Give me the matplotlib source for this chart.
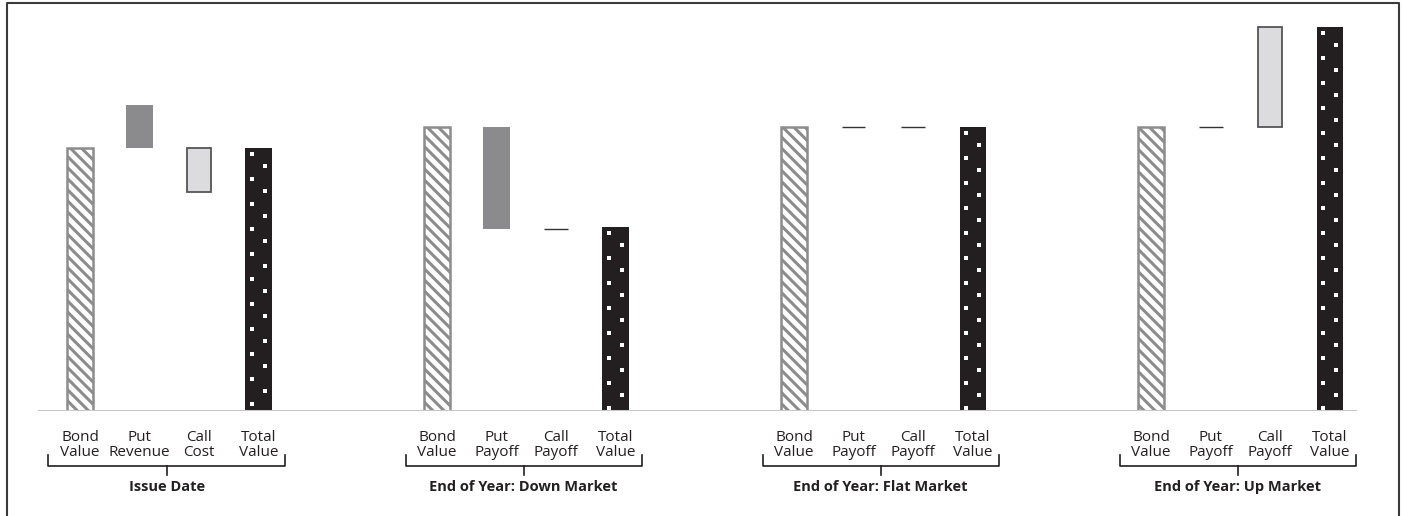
import numpy as np
import matplotlib
matplotlib.use("Agg")
import matplotlib.pyplot as plt
from matplotlib.lines import Line2D
import matplotlib.transforms as mtransforms

plt.rcParams['font.family'] = ['Open Sans', 'DejaVu Sans']
plt.rcParams['hatch.linewidth'] = 2.2

groups = ["Issue Date", "End of Year: Down Market", "End of Year: Flat Market", "End of Year: Up Market"]
cat_labels = [
    ["Bond\nValue", "Put\nRevenue", "Call\nCost", "Total\nValue"],
    ["Bond\nValue", "Put\nPayoff", "Call\nPayoff", "Total\nValue"],
    ["Bond\nValue", "Put\nPayoff", "Call\nPayoff", "Total\nValue"],
    ["Bond\nValue", "Put\nPayoff", "Call\nPayoff", "Total\nValue"],
]
bond = [92.6, 100, 100, 100]
put = [15.1, -35.8, 0, 0]
call = [-15.4, 0, 0, 35.2]
call_from = [92.6, 64.2, 100, 100]
total = [92.6, 64.8, 100, 135.2]

W, H = 1403, 516
fig = plt.figure(figsize=(W / 100, H / 100), dpi=100)
ax = fig.add_axes([38 / W, (H - 411) / H, (1357 - 38) / W, (411 - 15) / H])

bw = 0.44
gstep = 6
x0 = np.arange(len(groups)) * gstep

# bond value
ax.bar(x0, bond, bw, color="white", edgecolor="#8c8c8c", hatch="\\\\\\", lw=1.8, zorder=2)

# put
for i in range(len(groups)):
    if put[i] == 0:
        ax.hlines(bond[i], x0[i] + 1 - 0.2, x0[i] + 1 + 0.2, color="#333333", lw=1)
    else:
        ax.bar(x0[i] + 1, put[i], bw, bottom=bond[i], color="#8b8b8e", zorder=2)

# call
for i in range(len(groups)):
    if call[i] == 0:
        ax.hlines(call_from[i], x0[i] + 2 - 0.2, x0[i] + 2 + 0.2, color="#333333", lw=1)
    else:
        ax.bar(x0[i] + 2, call[i], bw - 0.04, bottom=call_from[i], color="#dcdcde",
               edgecolor="#555555", lw=1.3, zorder=2)

# total value with sparse dots
ax.bar(x0 + 3, total, bw, color="#231f20", zorder=2)
for i in range(len(groups)):
    ys = np.arange(total[i] - 2, 0, -8.8)
    ax.scatter(np.full(len(ys), x0[i] + 3 - 0.11), ys, s=5, marker="s", color="white", lw=0, zorder=3)
    ys2 = ys[:-1] - 4.4
    ys2 = ys2[ys2 > 1]
    ax.scatter(np.full(len(ys2), x0[i] + 3 + 0.11), ys2, s=5, marker="s", color="white", lw=0, zorder=3)

ax.set_xlim(-0.706, 21.46)
ax.set_ylim(0, 139.4)
ax.axhline(0, color="#c8c8c8", lw=2.2, zorder=4)
for s in ax.spines.values():
    s.set_visible(False)
ax.set_xticks([])
ax.set_yticks([])

# category labels and group brackets
tr = mtransforms.blended_transform_factory(ax.transData, fig.transFigure)
def fy(px):
    return 1 - px / H

for i, g in enumerate(groups):
    for j, lab in enumerate(cat_labels[i]):
        ax.text(x0[i] + j, fy(445), lab, transform=tr, ha="center", va="center",
                fontsize=11, color="#231f20", linespacing=0.95)
    xl, xr = x0[i] - 0.53, x0[i] + 3.44
    xm = (xl + xr) / 2
    fig.add_artist(Line2D([xl, xl, xr, xr], [fy(455), fy(466), fy(466), fy(455)],
                          transform=tr, color="#231f20", lw=1.2))
    fig.add_artist(Line2D([xm, xm], [fy(466), fy(475)], transform=tr, color="#231f20", lw=1.2))
    ax.text(xm, fy(487), g, transform=tr, ha="center", va="center",
            fontsize=10.5, fontweight="bold", color="#231f20")

# outer frame (open at the bottom)
fig.add_artist(Line2D([7 / W, 7 / W, 1399 / W, 1399 / W], [0, fy(2.5), fy(2.5), 0],
                      transform=fig.transFigure, color="#3a3a3a", lw=1.5))

fig.savefig("out.png", dpi=100)
